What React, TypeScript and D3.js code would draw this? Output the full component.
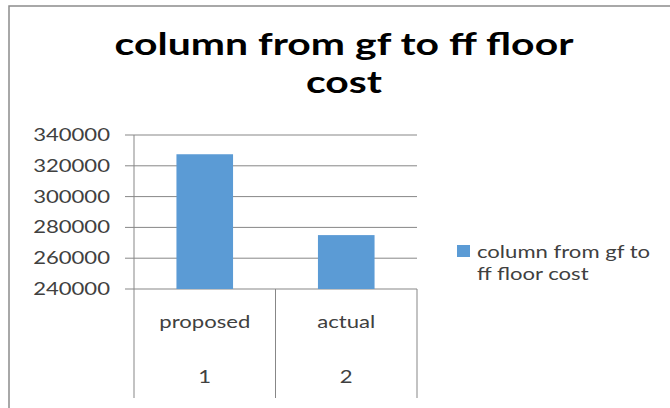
import React from 'react';
import * as d3 from 'd3';

const categories = ['proposed', 'actual'];
const groupLabels = ['1', '2'];
const values = [327500, 275000];
const yTicks = [240000, 260000, 280000, 300000, 320000, 340000];
const titleLines = ['column from gf to ff floor', 'cost'];
const legendLines = ['column from gf to', 'ff floor cost'];

const W = 670;
const H = 408;
const plot = { left: 134, right: 417, top: 135, bottom: 289, axisBottom: 398 };
const SX = 1.3; // the picture is stretched sideways, so text is too
const font = 'Lato, "Open Sans", sans-serif';
const barColor = '#5B9BD5';
const gridColor = '#878787';
const textColor = '#404040';

const App: React.FC = () => {
  const x = d3.scaleBand<string>().domain(categories).range([plot.left, plot.right]);
  const y = d3
    .scaleLinear()
    .domain([d3.min(yTicks) ?? 0, d3.max(yTicks) ?? 1])
    .range([plot.bottom, plot.top]);
  const barW = x.bandwidth() * 0.4;

  // category dividers: band edges
  const edges = [...categories.map((c) => x(c) ?? 0), plot.right];

  return (
    <svg width={W} height={H} style={{ position: 'absolute', left: 0, top: 0 }}>
      <rect x={0} y={0} width={W} height={H} fill="#fff" />
      {/* chart frame */}
      <rect x={9} y={6} width={W + 10} height={H + 10} fill="none" stroke="#8c8c8c" strokeWidth={1.5} />

      {/* title */}
      {titleLines.map((t, i) => (
        <text
          key={t}
          transform={`translate(344,${55 + i * 38}) scale(1.32,1)`}
          textAnchor="middle"
          fontFamily={font}
          fontWeight="bold"
          fontSize={31}
          fill="#000"
        >
          {t}
        </text>
      ))}

      {/* grid lines + y ticks */}
      {yTicks.map((t) => (
        <g key={t}>
          <line x1={plot.left - 9} x2={plot.right} y1={y(t)} y2={y(t)} stroke={gridColor} strokeWidth={1} />
          <text
            transform={`translate(110,${y(t) + 6}) scale(${SX},1)`}
            textAnchor="end"
            fontFamily={font}
            fontSize={17}
            fill={textColor}
          >
            {t}
          </text>
        </g>
      ))}

      {/* bars */}
      {categories.map((c, i) => (
        <rect
          key={c}
          x={(x(c) ?? 0) + (x.bandwidth() - barW) / 2}
          y={y(values[i])}
          width={barW}
          height={y(d3.min(yTicks) ?? 0) - y(values[i])}
          fill={barColor}
        />
      ))}

      {/* axis lines */}
      <line x1={plot.left} x2={plot.left} y1={plot.top} y2={plot.axisBottom} stroke={gridColor} />
      {edges.slice(1).map((e, i) => (
        <line key={i} x1={e} x2={e} y1={plot.bottom} y2={plot.axisBottom} stroke={gridColor} />
      ))}

      {/* category labels, two levels */}
      {categories.map((c, i) => {
        const cx = (x(c) ?? 0) + x.bandwidth() / 2;
        return (
          <g key={c}>
            <text
              transform={`translate(${cx},328) scale(${SX},1)`}
              textAnchor="middle"
              fontFamily={font}
              fontSize={17}
              fill={textColor}
            >
              {c}
            </text>
            <text
              transform={`translate(${cx},383) scale(${SX},1)`}
              textAnchor="middle"
              fontFamily={font}
              fontSize={17}
              fill={textColor}
            >
              {groupLabels[i]}
            </text>
          </g>
        );
      })}

      {/* legend */}
      <rect x={457} y={245} width={13} height={12} fill={barColor} />
      {legendLines.map((t, i) => (
        <text
          key={t}
          transform={`translate(477,${258 + i * 22}) scale(${SX},1)`}
          fontFamily={font}
          fontSize={17}
          fill={textColor}
        >
          {t}
        </text>
      ))}
    </svg>
  );
};

export default App;
